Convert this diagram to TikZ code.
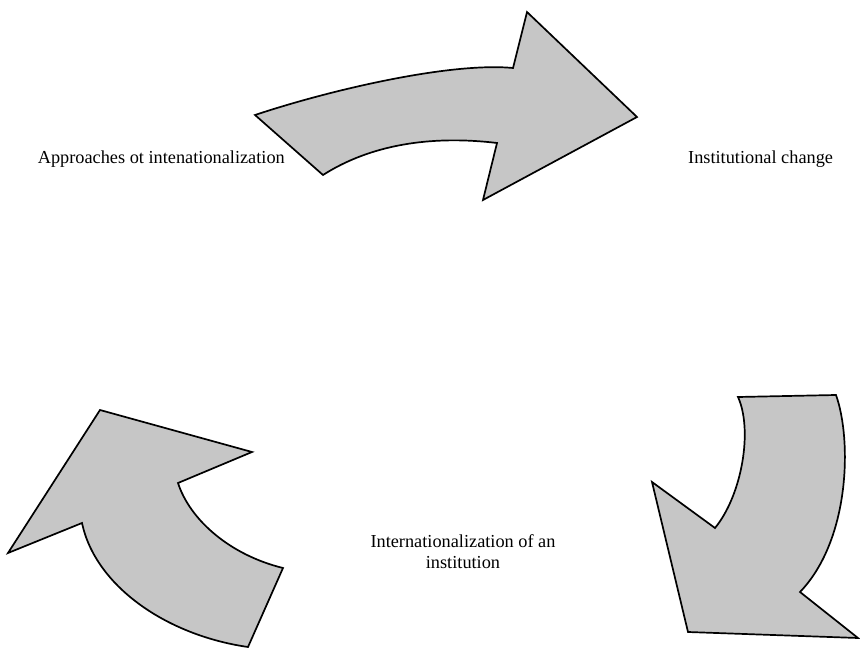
\documentclass[tikz,border=0pt]{standalone}
\usepackage{fontspec}
\setmainfont{Liberation Serif}
\definecolor{arrowgray}{RGB}{198,198,198}
\tikzset{
  bigarrow/.style={draw=black, line width=1.7pt, line join=miter, fill=arrowgray},
  label/.style={inner sep=0pt, font=\fontsize{18.3}{21}\selectfont}
}
\begin{document}
\begin{tikzpicture}[x=1pt,y=-1pt]
\useasboundingbox[fill=white] (0,0) rectangle (860,652);
% top arrow
\draw[bigarrow] (255,115) .. controls (330,90) and (450,62) .. (513,68)
  -- (527,12) -- (637,117) -- (483,200) -- (497,143)
  .. controls (430,135) and (370,145) .. (323,175) -- cycle;
% bottom-left arrow
\draw[bigarrow] (100,410) -- (252,452) -- (178,483)
  .. controls (190,520) and (230,555) .. (283,568) -- (248,647)
  .. controls (165,635) and (95,585) .. (82,523) -- (8,553) -- cycle;
% bottom-right arrow
\draw[bigarrow] (738,397) -- (836,395)
  .. controls (852,440) and (850,540) .. (800,592) -- (858,638)
  -- (688,632) -- (652,482) -- (715,528)
  .. controls (742,495) and (753,430) .. cycle;
% labels
\node[label, anchor=base east] (approaches) at (285,164) {Approaches ot intenationalization};
\node[label, anchor=base west] (change) at (688,164) {Institutional change};
\node[label, anchor=base, align=center] (intl) at (463,568) {Internationalization of an\\institution};
\end{tikzpicture}
\end{document}
